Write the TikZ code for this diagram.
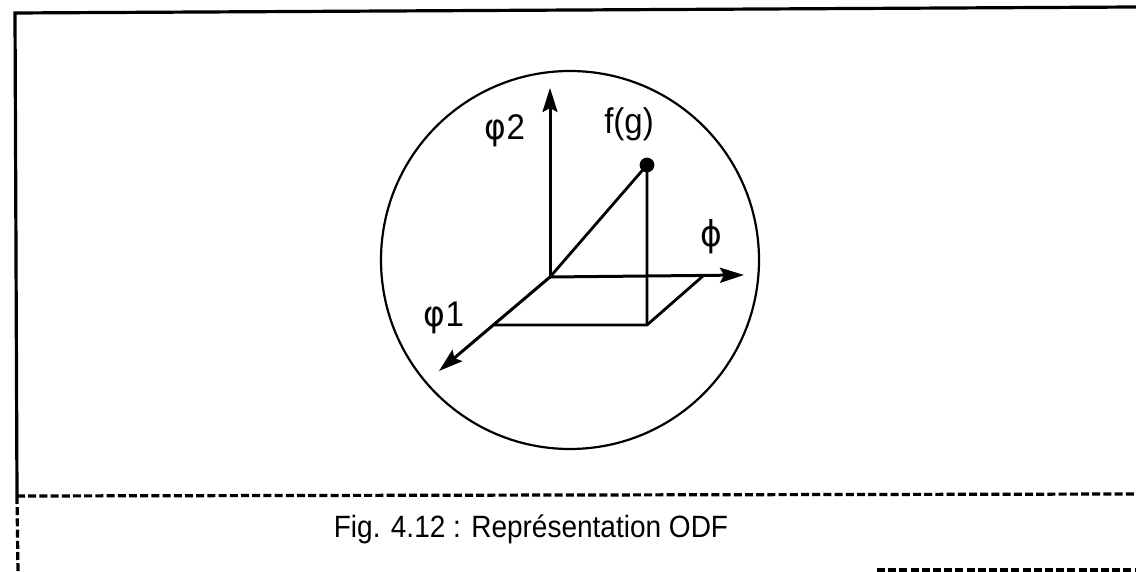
\documentclass[tikz,border=0pt]{standalone}
\usepackage{fontspec}
\setmainfont{Liberation Sans}
\newfontfamily\grk{DejaVu Sans}
\usetikzlibrary{arrows.meta,calc}
\tikzset{
  axis/.style  ={-{Stealth[length=12pt,width=7.5pt,inset=2pt]}, line width=1.5pt},
  edge/.style  ={line width=1.4pt},
  lbl/.style   ={font=\fontsize{16.5}{18}\selectfont, inner sep=0pt, yscale=1.08, transform shape},
  frm/.style   ={line width=1.6pt},
  frmd/.style  ={line width=1.6pt, dash pattern=on 4pt off 1.6pt},
}
\begin{document}
\begin{tikzpicture}[x=0.5pt,y=-0.5pt]
  \useasboundingbox (0,0) rectangle (1136,572);
  % frame
  \coordinate (tl) at (15,13);
  \coordinate (tr) at (1136,7);
  \coordinate (ml) at (17,496);
  \coordinate (mr) at (1136,494);
  \coordinate (bl) at (18,572);
  \coordinate (bs) at (877,570);
  \coordinate (be) at (1136,570);
  \draw[frm] (tr) -- (tl) -- (ml);
  \draw[frmd] (ml) -- (mr);
  \draw[frmd] (ml) -- (bl);
  \draw[frmd] (bs) -- (be);
  % sphere
  \node[circle, draw, line width=1.1pt, minimum size=189pt, inner sep=0pt] (sph) at (570,260) {};
  % axes
  \coordinate (o)   at (550,277);
  \coordinate (phi2) at (550,88);
  \coordinate (phi)  at (744,275);
  \coordinate (phi1) at (439,371);
  \draw[axis] (o) -- (phi2);
  \draw[axis] (o) -- (phi);
  \draw[axis] (o) -- (phi1);
  % point f(g) and its projection
  \coordinate (fg) at (647,165);
  \coordinate (fgb) at (647,325);
  \coordinate (pa) at (494,325);
  \coordinate (pb) at (703,276);
  \draw[edge] (o) -- (fg) -- (fgb);
  \draw[edge] (pa) -- (fgb) -- (pb);
  \fill (fg) circle (3.7pt);
  % labels
  \node[lbl] (lphi2) at (505,131) {{\grk φ}2};
  \node[lbl] (lfg)   at (629,124) {f(g)};
  \node[lbl] (lphi)  at (711,237) {\grk ϕ};
  \node[lbl] (lphi1) at (444,318) {{\grk φ}1};
  % caption
  \node[font=\fontsize{14}{16}\selectfont, anchor=base, inner sep=0pt, yscale=1.1, transform shape] (cap) at (531,537) {Fig. 4.12 : Représentation ODF};
\end{tikzpicture}
\end{document}
